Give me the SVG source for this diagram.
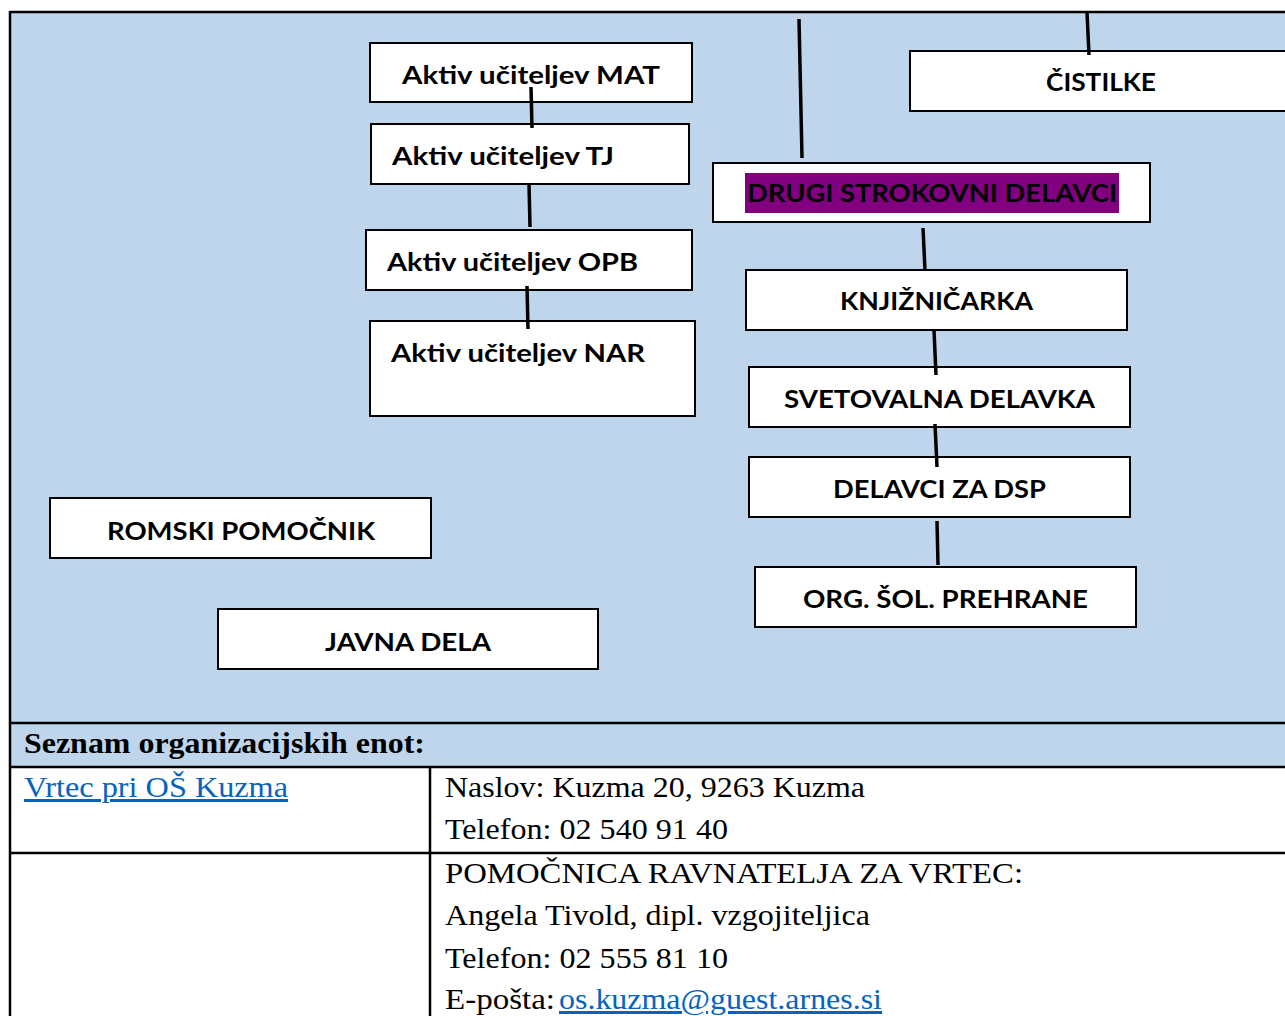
<svg xmlns="http://www.w3.org/2000/svg" width="1285" height="1016" viewBox="0 0 1285 1016">
<style>
.bg{fill:#BED5EC}
.box{fill:#FFFFFF;stroke:#000;stroke-width:2}
.lbl{font-family:Lato,"Open Sans","Liberation Sans",sans-serif;font-weight:bold;font-size:25px;fill:#000}
.conn{stroke:#000;stroke-width:3.5;fill:none}
.grid{stroke:#000;stroke-width:2.5;fill:none}
.tt{font-family:"Liberation Serif","Times New Roman",serif;font-size:30px;fill:#000}
.ttb{font-family:"Liberation Serif","Times New Roman",serif;font-size:30px;font-weight:bold;fill:#000}
.link{fill:#0563C1;text-decoration:underline}
</style>
<rect class="bg" x="10" y="12" width="1280" height="755"/>
<rect x="10" y="767" width="1280" height="260" fill="#FFFFFF"/>
<g id="frame">
<line class="grid" x1="10" y1="12" x2="1290" y2="12"/>
<line class="grid" x1="10" y1="11" x2="10" y2="1020"/>
<line class="grid" x1="10" y1="723" x2="1290" y2="723"/>
<line class="grid" x1="10" y1="767" x2="1290" y2="767"/>
<line class="grid" x1="10" y1="853" x2="1290" y2="853"/>
<line class="grid" x1="430" y1="767" x2="430" y2="1020"/>
</g>
<g id="n-mat"><rect class="box" x="370" y="43" width="322" height="59"/><text class="lbl" x="402" y="84" textLength="258" lengthAdjust="spacingAndGlyphs">Aktiv učiteljev MAT</text></g>
<g id="n-tj"><rect class="box" x="371" y="124" width="318" height="60"/><text class="lbl" x="392" y="165" textLength="222" lengthAdjust="spacingAndGlyphs">Aktiv učiteljev TJ</text></g>
<g id="n-opb"><rect class="box" x="366" y="230" width="326" height="60"/><text class="lbl" x="387" y="271" textLength="251" lengthAdjust="spacingAndGlyphs">Aktiv učiteljev OPB</text></g>
<g id="n-nar"><rect class="box" x="370" y="321" width="325" height="95"/><text class="lbl" x="391" y="362" textLength="254" lengthAdjust="spacingAndGlyphs">Aktiv učiteljev NAR</text></g>
<g id="n-cistilke"><rect class="box" x="910" y="51" width="390" height="60"/><text class="lbl" x="1046" y="91" textLength="110" lengthAdjust="spacingAndGlyphs">ČISTILKE</text></g>
<g id="n-drugi"><rect class="box" x="713" y="163" width="437" height="59"/><rect x="745" y="173" width="374" height="40" fill="#800080"/><text class="lbl" x="747" y="202" textLength="370" lengthAdjust="spacingAndGlyphs">DRUGI STROKOVNI DELAVCI</text></g>
<g id="n-knjiz"><rect class="box" x="746" y="270" width="381" height="60"/><text class="lbl" x="840" y="310" textLength="193" lengthAdjust="spacingAndGlyphs">KNJIŽNIČARKA</text></g>
<g id="n-svet"><rect class="box" x="749" y="367" width="381" height="60"/><text class="lbl" x="784" y="408" textLength="311" lengthAdjust="spacingAndGlyphs">SVETOVALNA DELAVKA</text></g>
<g id="n-dsp"><rect class="box" x="749" y="457" width="381" height="60"/><text class="lbl" x="833" y="498" textLength="213" lengthAdjust="spacingAndGlyphs">DELAVCI ZA DSP</text></g>
<g id="n-org"><rect class="box" x="755" y="567" width="381" height="60"/><text class="lbl" x="803" y="608" textLength="285" lengthAdjust="spacingAndGlyphs">ORG. ŠOL. PREHRANE</text></g>
<g id="n-romski"><rect class="box" x="50" y="498" width="381" height="60"/><text class="lbl" x="107" y="540" textLength="268" lengthAdjust="spacingAndGlyphs">ROMSKI POMOČNIK</text></g>
<g id="n-javna"><rect class="box" x="218" y="609" width="380" height="60"/><text class="lbl" x="325" y="651" textLength="166" lengthAdjust="spacingAndGlyphs">JAVNA DELA</text></g>
<g id="connectors">
<line class="conn" x1="531" y1="87" x2="532" y2="128"/>
<line class="conn" x1="529" y1="184" x2="530" y2="227"/>
<line class="conn" x1="527" y1="286" x2="528" y2="329"/>
<line class="conn" x1="799" y1="19" x2="802" y2="158"/>
<line class="conn" x1="1087" y1="12" x2="1089" y2="55"/>
<line class="conn" x1="923" y1="228" x2="925" y2="270"/>
<line class="conn" x1="934" y1="330" x2="936" y2="375"/>
<line class="conn" x1="935" y1="424" x2="937" y2="467"/>
<line class="conn" x1="937" y1="521" x2="938" y2="565"/>
</g>
<g id="table">
<text class="ttb" x="24" y="753" textLength="401" lengthAdjust="spacingAndGlyphs">Seznam organizacijskih enot:</text>
<text class="tt link" x="24" y="797" textLength="264" lengthAdjust="spacingAndGlyphs">Vrtec pri OŠ Kuzma</text>
<text class="tt" x="445" y="797" textLength="420" lengthAdjust="spacingAndGlyphs">Naslov: Kuzma 20, 9263 Kuzma</text>
<text class="tt" x="445" y="839" textLength="283" lengthAdjust="spacingAndGlyphs">Telefon: 02 540 91 40</text>
<text class="tt" x="445" y="883" textLength="578" lengthAdjust="spacingAndGlyphs">POMOČNICA RAVNATELJA ZA VRTEC:</text>
<text class="tt" x="445" y="925" textLength="425" lengthAdjust="spacingAndGlyphs">Angela Tivold, dipl. vzgojiteljica</text>
<text class="tt" x="445" y="968" textLength="283" lengthAdjust="spacingAndGlyphs">Telefon: 02 555 81 10</text>
<text class="tt" x="445" y="1009" textLength="110" lengthAdjust="spacingAndGlyphs">E-pošta:</text>
<text class="tt link" x="559" y="1009" textLength="323" lengthAdjust="spacingAndGlyphs">os.kuzma@guest.arnes.si</text>
</g>
</svg>
